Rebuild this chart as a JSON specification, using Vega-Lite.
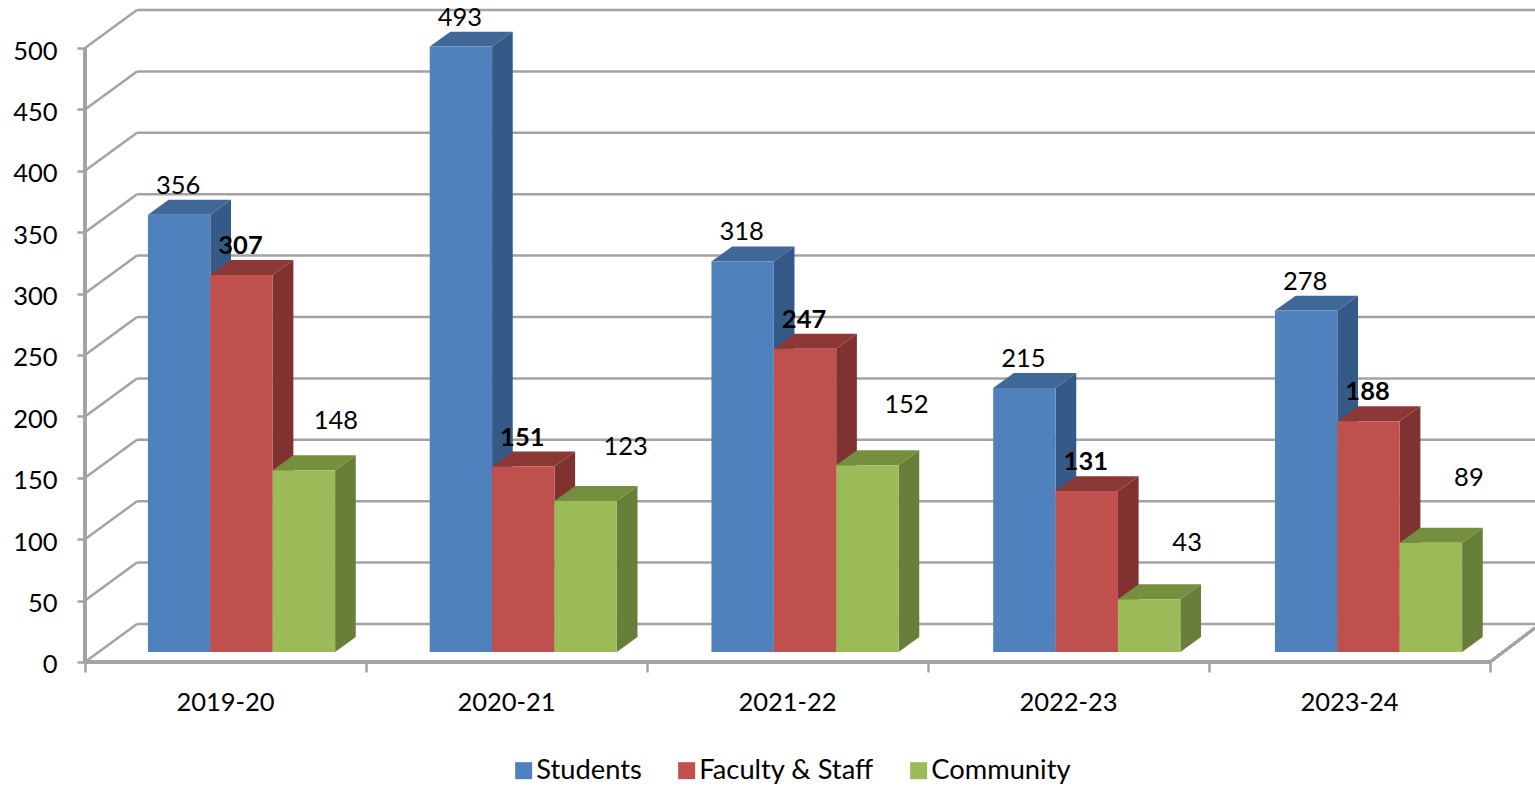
{
"$schema":"https://vega.github.io/schema/vega-lite/v6.json",
"width":1535,"height":786,"padding":0,"autosize":{"type":"none"},"background":"white",
"config":{"view":{"stroke":null},"font":"Lato","text":{"font":"Lato"}},
"datasets":{
"bars":[
{"year":"2019-20","series":"Students","value":356},{"year":"2019-20","series":"Faculty & Staff","value":307},{"year":"2019-20","series":"Community","value":148},
{"year":"2020-21","series":"Students","value":493},{"year":"2020-21","series":"Faculty & Staff","value":151},{"year":"2020-21","series":"Community","value":123},
{"year":"2021-22","series":"Students","value":318},{"year":"2021-22","series":"Faculty & Staff","value":247},{"year":"2021-22","series":"Community","value":152},
{"year":"2022-23","series":"Students","value":215},{"year":"2022-23","series":"Faculty & Staff","value":131},{"year":"2022-23","series":"Community","value":43},
{"year":"2023-24","series":"Students","value":278},{"year":"2023-24","series":"Faculty & Staff","value":188},{"year":"2023-24","series":"Community","value":89}],
"levels":[{"level":0},{"level":50},{"level":100},{"level":150},{"level":200},{"level":250},{"level":300},{"level":350},{"level":400},{"level":450},{"level":500}]
},
"data":{"name":"bars"},
"transform":[
{"calculate":"indexof(['2019-20','2020-21','2021-22','2022-23','2023-24'],datum.year)","as":"i"},
{"calculate":"indexof(['Students','Faculty & Staff','Community'],datum.series)","as":"s"},
{"calculate":"datum.i*1.00267+0.224+datum.s*0.222","as":"left"},
{"calculate":"datum.left+0.222","as":"right"},
{"calculate":"datum.year+datum.series","as":"key"},
{"calculate":"datum.i+0.5","as":"mid"},
{"calculate":"datum.left+0.111","as":"center"}
],
"layer":[
{"data":{"name":"levels"},"transform":[{"calculate":"datum.level+30.94","as":"back"}],
 "mark":{"type":"rule","color":"#A3A3A3","strokeWidth":2.5},
 "encoding":{
  "x":{"datum":0.185,"type":"quantitative","scale":{"domain":[-0.3025,5.1601],"nice":false,"zero":false},
       "axis":{"orient":"bottom","offset":-124,"values":[0,1,2,3,4,5],"labels":false,"domain":false,"grid":false,"tickColor":"#A3A3A3","tickWidth":2.5,"tickSize":10,"title":null}},
  "x2":{"datum":5.1601},
  "y":{"field":"back","type":"quantitative","scale":{"domain":[-101.0,539.1],"nice":false,"zero":false},
       "axis":{"orient":"left","offset":-85,"values":[0,50,100,150,200,250,300,350,400,450,500],"domain":false,"grid":false,"tickColor":"#A3A3A3","tickWidth":2.5,"tickSize":8,"labelFont":"Lato","labelFontSize":25.5,"labelColor":"#000000","labelPadding":20,"labelOffset":3,"title":null}}
 }},
{"data":{"name":"levels"},"transform":[{"calculate":"datum.level+30.94","as":"back"}],
 "mark":{"type":"rule","color":"#A3A3A3","strokeWidth":2.5},
 "encoding":{
  "x":{"datum":0,"type":"quantitative"},"x2":{"datum":0.185},
  "y":{"field":"level","type":"quantitative"},"y2":{"field":"back"}
 }},
{"mark":{"type":"rule","color":"#A3A3A3","strokeWidth":2.5},
 "encoding":{"x":{"datum":0,"type":"quantitative"},"y":{"datum":0,"type":"quantitative"},"y2":{"datum":500}}},
{"mark":{"type":"rule","color":"#A3A3A3","strokeWidth":2.5},
 "encoding":{"x":{"datum":0,"type":"quantitative"},"x2":{"datum":5},"y":{"datum":0,"type":"quantitative"}}},
{"mark":{"type":"rule","color":"#A3A3A3","strokeWidth":2.5},
 "encoding":{"x":{"datum":5,"type":"quantitative"},"x2":{"datum":5.1601},"y":{"datum":0,"type":"quantitative"},"y2":{"datum":27.7}}},
{"transform":[{"calculate":"[0,1]","as":"c"},{"flatten":["c"]},
  {"calculate":"datum.right+datum.c*0.0735","as":"sx"},
  {"calculate":"datum.value+8.14+datum.c*12.2","as":"sy"},
  {"calculate":"8.14+datum.c*12.2","as":"sy2"}],
 "mark":{"type":"area","orient":"vertical"},
 "encoding":{
  "x":{"field":"sx","type":"quantitative"},
  "y":{"field":"sy","type":"quantitative"},"y2":{"field":"sy2"},
  "detail":{"field":"key"},
  "color":{"field":"series","type":"nominal","legend":null,"scale":{"domain":["Students","Faculty & Staff","Community"],"range":["#355A87","#7F3230","#677F38"]}}
 }},
{"transform":[{"calculate":"[0,1]","as":"c"},{"flatten":["c"]},
  {"calculate":"datum.left+datum.c*0.0735","as":"tx"},
  {"calculate":"datum.right+datum.c*0.0735","as":"tx2"},
  {"calculate":"datum.value+8.14+datum.c*12.2","as":"ty"}],
 "mark":{"type":"area","orient":"horizontal"},
 "encoding":{
  "y":{"field":"ty","type":"quantitative"},
  "x":{"field":"tx","type":"quantitative"},"x2":{"field":"tx2"},
  "detail":{"field":"key"},
  "color":{"field":"series","type":"nominal","legend":null,"scale":{"domain":["Students","Faculty & Staff","Community"],"range":["#3F6797","#8C3836","#748F3E"]}}
 }},
{"mark":{"type":"bar","yOffset":-10,"y2Offset":-10},
 "encoding":{
  "x":{"field":"left","type":"quantitative"},"x2":{"field":"right"},
  "y":{"field":"value","type":"quantitative"},"y2":{"datum":0},
  "color":{"field":"series","type":"nominal","scale":{"domain":["Students","Faculty & Staff","Community"],"range":["#4F81BD","#C0504D","#9BBB59"]},
    "legend":{"title":null,"orient":"none","legendX":510,"legendY":757,"direction":"horizontal","columns":3,"symbolType":"square","symbolSize":289,"symbolStrokeWidth":0,"labelFont":"Lato","labelFontSize":27.3,"labelLimit":400,"labelColor":"#000000","labelOffset":-1,"columnPadding":31,"padding":0}}
 }},
{"transform":[{"filter":"datum.s==0"}],
 "mark":{"type":"text","font":"Lato","fontSize":25.5,"color":"#000000","baseline":"middle","dy":41},
 "encoding":{"x":{"field":"mid","type":"quantitative"},"y":{"datum":0,"type":"quantitative"},"text":{"field":"year"}}},
{"transform":[{"filter":"datum.s==0"}],
 "mark":{"type":"text","font":"Lato","fontSize":25.5,"color":"#000000","baseline":"middle","dx":-1,"dy":-39},
 "encoding":{"x":{"field":"center","type":"quantitative"},"y":{"field":"value","type":"quantitative"},"text":{"field":"value","type":"quantitative"}}},
{"transform":[{"filter":"datum.s==1"}],
 "mark":{"type":"text","font":"Lato","fontSize":25.5,"fontWeight":"bold","color":"#000000","baseline":"middle","dx":-1,"dy":-39},
 "encoding":{"x":{"field":"center","type":"quantitative"},"y":{"field":"value","type":"quantitative"},"text":{"field":"value","type":"quantitative"}}},
{"transform":[{"filter":"datum.s==2 && datum.i==0"}],
 "mark":{"type":"text","font":"Lato","fontSize":25.5,"color":"#000000","baseline":"middle","dx":32,"dy":-59},
 "encoding":{"x":{"field":"center","type":"quantitative"},"y":{"field":"value","type":"quantitative"},"text":{"field":"value","type":"quantitative"}}},
{"transform":[{"filter":"datum.s==2 && datum.i==1"}],
 "mark":{"type":"text","font":"Lato","fontSize":25.5,"color":"#000000","baseline":"middle","dx":40,"dy":-64},
 "encoding":{"x":{"field":"center","type":"quantitative"},"y":{"field":"value","type":"quantitative"},"text":{"field":"value","type":"quantitative"}}},
{"transform":[{"filter":"datum.s==2 && datum.i==2"}],
 "mark":{"type":"text","font":"Lato","fontSize":25.5,"color":"#000000","baseline":"middle","dx":39,"dy":-70},
 "encoding":{"x":{"field":"center","type":"quantitative"},"y":{"field":"value","type":"quantitative"},"text":{"field":"value","type":"quantitative"}}},
{"transform":[{"filter":"datum.s==2 && datum.i==3"}],
 "mark":{"type":"text","font":"Lato","fontSize":25.5,"color":"#000000","baseline":"middle","dx":38,"dy":-66},
 "encoding":{"x":{"field":"center","type":"quantitative"},"y":{"field":"value","type":"quantitative"},"text":{"field":"value","type":"quantitative"}}},
{"transform":[{"filter":"datum.s==2 && datum.i==4"}],
 "mark":{"type":"text","font":"Lato","fontSize":25.5,"color":"#000000","baseline":"middle","dx":38,"dy":-75},
 "encoding":{"x":{"field":"center","type":"quantitative"},"y":{"field":"value","type":"quantitative"},"text":{"field":"value","type":"quantitative"}}}
],
"resolve":{"scale":{"color":"independent"}}
}
